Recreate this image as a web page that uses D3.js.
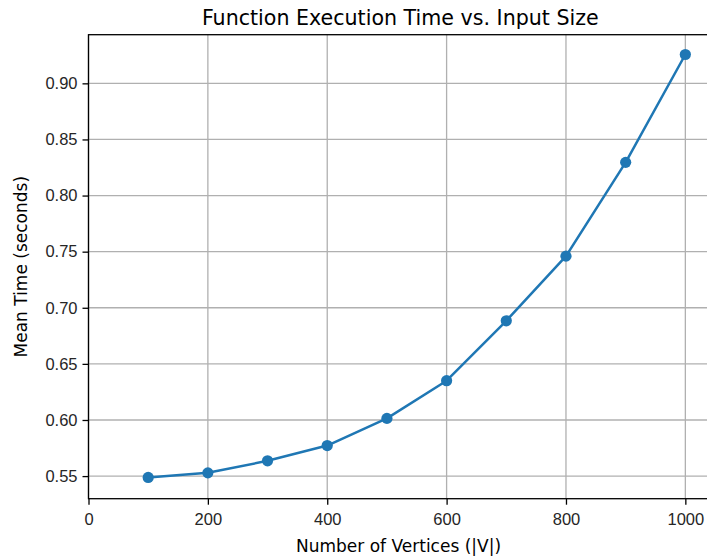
<!DOCTYPE html>
<html>
    <head>
        <meta charset="utf-8">
        <title>Function Execution Time vs. Input Size</title>
        <script src="https://d3js.org/d3.v7.min.js"></script>
        <style>
         html, body {
             margin: 0;
             padding: 0;
             background-color: white;
         }
         svg {
             display: block;
             font-family: "DejaVu Sans", sans-serif;
         }
         .tick text {
             font-size: 16.5px;
             fill: #262626;
         }
         .grid line {
             stroke: #b0b0b0;
             stroke-width: 1.3;
         }
        </style>
    </head>

    <body>
        <div id="plot"></div>

        <script>
         // input sizes (|V|) and mean run time in seconds
         const sizes = [100, 200, 300, 400, 500, 600, 700, 800, 900, 1000]
         const meanTimes = [0.5488, 0.5529, 0.5636, 0.5772, 0.6014, 0.6350, 0.6884, 0.7460, 0.8296, 0.9257]
         const xTicks = [0, 200, 400, 600, 800, 1000]
         const yTicks = [0.55, 0.60, 0.65, 0.70, 0.75, 0.80, 0.85, 0.90]

         const points = sizes.map((s, i) => ({size: s, time: meanTimes[i]}))

         const W = 707, H = 557
         // plot box; the right edge runs past the picture like in the original
         var margin = {top: 34.7, left: 88.5},
             width = 623.7,
             height = 464

         var svg = d3.select("#plot")
                     .append("svg")
                     .attr("width", W)
                     .attr("height", H)

         var g = svg.append("g")
                    .attr("transform", "translate(" + margin.left + "," + margin.top + ")")

         var x = d3.scaleLinear()
                   .domain([0, 1045])
                   .range([0, width])
         var y = d3.scaleLinear()
                   .domain([0.52985, 0.94335])
                   .range([height, 0])

         // grid
         g.append("g")
          .attr("class", "grid")
          .selectAll("line.v")
          .data(xTicks)
          .join("line")
          .attr("x1", d => x(d)).attr("x2", d => x(d))
          .attr("y1", 0).attr("y2", height)
         g.append("g")
          .attr("class", "grid")
          .selectAll("line.h")
          .data(yTicks)
          .join("line")
          .attr("x1", 0).attr("x2", width)
          .attr("y1", d => y(d)).attr("y2", d => y(d))

         // axes
         const xAxis = g.append("g")
                        .attr("transform", "translate(0," + height + ")")
                        .call(d3.axisBottom(x).tickValues(xTicks).tickSize(6).tickPadding(5).tickFormat(d3.format("d")))
         const yAxis = g.append("g")
                        .call(d3.axisLeft(y).tickValues(yTicks).tickSize(6).tickPadding(5).tickFormat(d3.format(".2f")))
         for (const ax of [xAxis, yAxis]) {
             ax.select(".domain").remove()
             ax.selectAll(".tick line").attr("stroke", "#000").attr("stroke-width", 1.3)
         }
         xAxis.selectAll(".tick text").attr("dy", "0.95em")

         // spines
         g.append("rect")
          .attr("x", 0).attr("y", 0)
          .attr("width", width).attr("height", height)
          .attr("fill", "none")
          .attr("stroke", "#000")
          .attr("stroke-width", 1.3)

         // data line and markers
         g.append("path")
          .datum(points)
          .attr("fill", "none")
          .attr("stroke", "#1f77b4")
          .attr("stroke-width", 2.5)
          .attr("stroke-linejoin", "round")
          .attr("d", d3.line()
                       .x(d => x(d.size))
                       .y(d => y(d.time)))
         g.selectAll("circle")
          .data(points)
          .join("circle")
          .attr("cx", d => x(d.size))
          .attr("cy", d => y(d.time))
          .attr("r", 5.6)
          .attr("fill", "#1f77b4")

         // title and labels
         svg.append("text")
            .attr("x", 400.3).attr("y", 24.5)
            .attr("text-anchor", "middle")
            .attr("font-size", 20.6)
            .attr("fill", "#000")
            .text("Function Execution Time vs. Input Size")
         svg.append("text")
            .attr("x", 398.5).attr("y", 551.5)
            .attr("text-anchor", "middle")
            .attr("font-size", 17)
            .attr("fill", "#000")
            .text("Number of Vertices (|V|)")
         svg.append("text")
            .attr("transform", "translate(26.5," + (margin.top + height / 2) + ") rotate(-90)")
            .attr("text-anchor", "middle")
            .attr("font-size", 17)
            .attr("fill", "#000")
            .text("Mean Time (seconds)")
        </script>
    </body>
</html>
